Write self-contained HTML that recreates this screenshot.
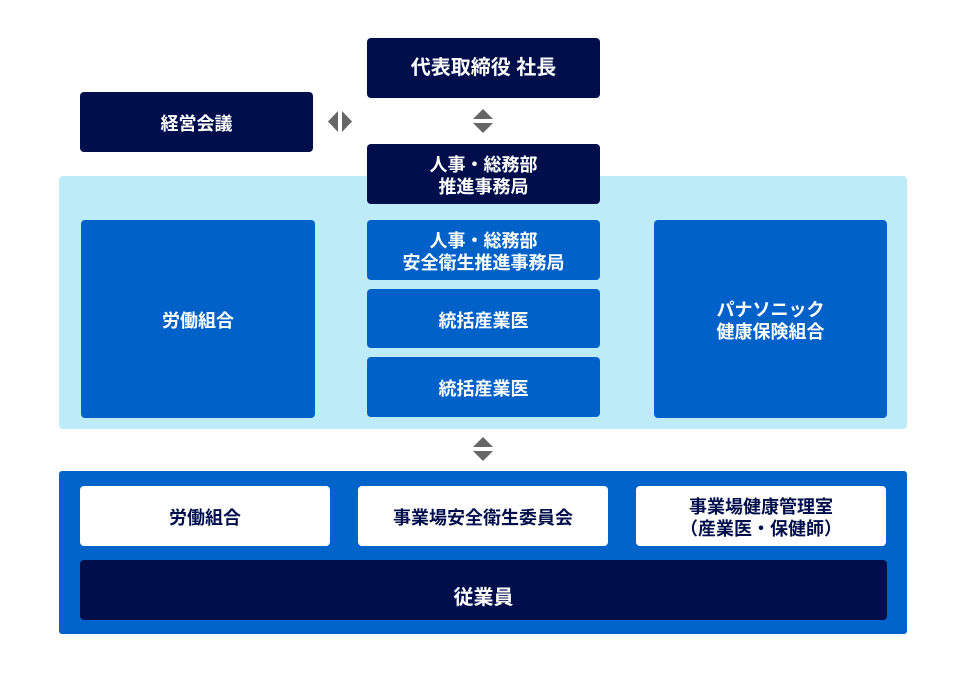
<!DOCTYPE html>
<html><head><meta charset="utf-8"><style>
body{margin:0;width:967px;height:673px;background:#fff;position:relative;overflow:hidden;font-family:"Liberation Sans","Noto Sans CJK JP",sans-serif;font-weight:bold;}
div.b{position:absolute;display:flex;align-items:center;justify-content:center;text-align:center;border-radius:4px;color:#fff;font-size:18px;line-height:22px;box-sizing:border-box}
.n{background:#000f4c}.u{background:#0062c8}.w{background:#fff;color:#000f4c!important}
</style></head><body>
<div class="b" style="left:59px;top:176px;width:848px;height:253px;background:#bdebf7;border-radius:4px"></div>
<div class="b" style="left:59px;top:471px;width:848px;height:163px;background:#0063c9;border-radius:3px"></div>
<div class="b n" style="left:367px;top:38px;width:233px;height:60px;font-size:20px">代表取締役 社長</div>
<div class="b n" style="left:80px;top:92px;width:233px;height:60px;padding-top:4px">経営会議</div>
<div class="b n" style="left:367px;top:144px;width:233px;height:60px;padding-top:3px">人事・総務部<br>推進事務局</div>
<div class="b u" style="left:81px;top:220px;width:234px;height:198px;padding-top:4px">労働組合</div>
<div class="b u" style="left:367px;top:220px;width:233px;height:60px;padding-top:3px">人事・総務部<br>安全衛生推進事務局</div>
<div class="b u" style="left:367px;top:289px;width:233px;height:59px;padding-top:4px">統括産業医</div>
<div class="b u" style="left:367px;top:357px;width:233px;height:60px;padding-top:4px">統括産業医</div>
<div class="b u" style="left:654px;top:220px;width:233px;height:198px;padding-top:4px">パナソニック<br>健康保険組合</div>
<div class="b w" style="left:80px;top:486px;width:250px;height:60px;padding-top:4px">労働組合</div>
<div class="b w" style="left:358px;top:486px;width:250px;height:60px;padding-top:4px">事業場安全衛生委員会</div>
<div class="b w" style="left:636px;top:486px;width:250px;height:60px;padding-top:3px">事業場健康管理室<br>（産業医・保健師）</div>
<div class="b n" style="left:80px;top:560px;width:807px;height:60px;font-size:20px;padding-top:16px">従業員</div>
<svg style="position:absolute;left:0;top:0" width="967" height="673">
<g fill="#666">
<polygon points="338,111 338,132 328,121.5"/><polygon points="342,111 342,132 352,121.5"/>
<polygon points="473,119 493,119 483,109"/><polygon points="473,123 493,123 483,133"/>
<polygon points="473,447 493,447 483,437"/><polygon points="473,451 493,451 483,461"/>
</g></svg>
</body></html>
